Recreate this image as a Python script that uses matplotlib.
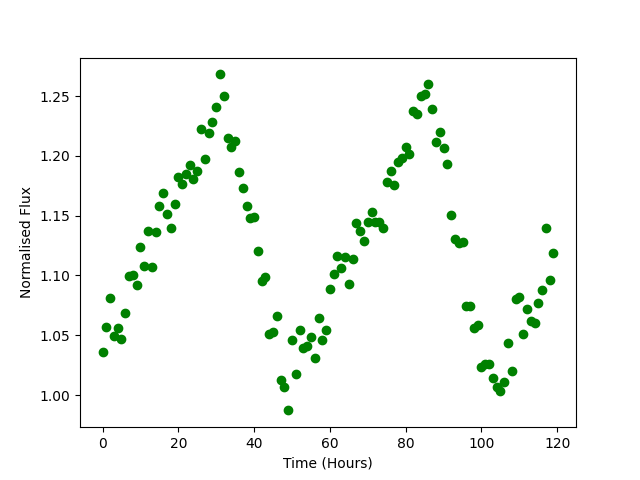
import numpy as np
import matplotlib
matplotlib.use("Agg")
import matplotlib.pyplot as plt

hours = list(range(120))
flux = [
    1.0357, 1.0572, 1.0809, 1.0496, 1.0563, 1.0466, 1.0689, 1.0995, 1.1006, 1.0923,
    1.1241, 1.1082, 1.1374, 1.1073, 1.1366, 1.1578, 1.1692, 1.1516, 1.1399, 1.1600,
    1.1826, 1.1767, 1.1845, 1.1923, 1.1809, 1.1876, 1.2222, 1.1977, 1.2194, 1.2286,
    1.2411, 1.2681, 1.2503, 1.2146, 1.2077, 1.2127, 1.1868, 1.1734, 1.1578, 1.1483,
    1.1492, 1.1207, 1.0956, 1.0990, 1.0513, 1.0530, 1.0664, 1.0123, 1.0070, 0.9872,
    1.0463, 1.0173, 1.0541, 1.0390, 1.0413, 1.0482, 1.0307, 1.0647, 1.0463, 1.0547,
    1.0884, 1.1015, 1.1165, 1.1065, 1.1151, 1.0931, 1.1140, 1.1436, 1.1374, 1.1285,
    1.1444, 1.1533, 1.1444, 1.1450, 1.1399, 1.1784, 1.1876, 1.1759, 1.1951, 1.1985,
    1.2077, 1.2015, 1.2378, 1.2350, 1.2503, 1.2514, 1.2598, 1.2395, 1.2118, 1.2202,
    1.2063, 1.1935, 1.1508, 1.1307, 1.1268, 1.1282, 1.0747, 1.0747, 1.0563, 1.0585,
    1.0237, 1.0257, 1.0257, 1.0145, 1.0070, 1.0037, 1.0106, 1.0438, 1.0204, 1.0806,
    1.0820, 1.0513, 1.0717, 1.0622, 1.0605, 1.0772, 1.0875, 1.1399, 1.0965, 1.1191,
]

fig, ax = plt.subplots(figsize=(6.4, 4.8), dpi=100)
ax.plot(hours, flux, 'go')
ax.set_xlabel("Time (Hours)")
ax.set_ylabel("Normalised Flux")
fig.savefig("out.png")
